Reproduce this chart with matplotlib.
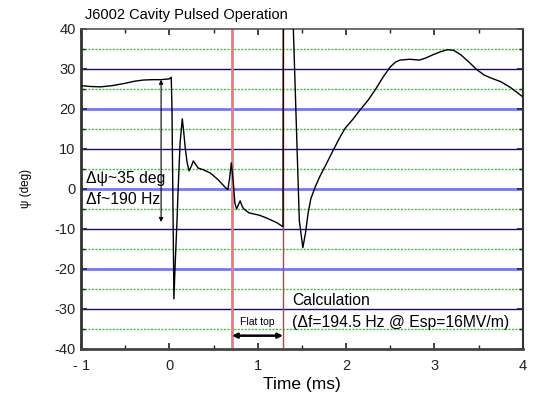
import matplotlib
matplotlib.use('Agg')
import matplotlib.pyplot as plt
import numpy as np

plt.rcParams['font.family'] = ['Liberation Sans', 'DejaVu Sans']
plt.rcParams['axes.unicode_minus'] = False

# phase curve
t = [-1.0, -0.9, -0.78, -0.65, -0.5, -0.4, -0.3, -0.2, -0.1, 0.0, 0.02, 0.028, 0.05, 0.065,
     0.085, 0.098, 0.12, 0.145, 0.16, 0.177, 0.20, 0.222, 0.25, 0.27, 0.30, 0.325, 0.38,
     0.46, 0.55, 0.63, 0.66, 0.68, 0.70, 0.72, 0.74, 0.76, 0.78, 0.80, 0.82, 0.84, 0.90,
     0.96, 1.02, 1.10, 1.22, 1.285, 1.29, 1.36, 1.47, 1.51, 1.54, 1.57, 1.60, 1.65, 1.70,
     1.77, 1.85, 1.92, 1.99, 2.08, 2.16, 2.25, 2.33, 2.42, 2.50, 2.56, 2.61, 2.72, 2.83,
     2.90, 2.98, 3.07, 3.15, 3.22, 3.30, 3.40, 3.48, 3.56, 3.63, 3.75, 3.85, 3.93, 4.0]
psi = [25.8, 25.6, 25.5, 25.8, 26.4, 26.9, 27.2, 27.3, 27.3, 27.5, 27.9, 20.0, -27.5, -18.5,
       -8.0, 0.0, 11.5, 17.5, 14.5, 10.5, 6.5, 4.5, 5.8, 7.0, 6.0, 5.2, 4.8,
       4.0, 2.3, 0.4, -0.2, 2.5, 6.5, 2.2, -3.5, -5.0, -4.0, -3.0, -4.2, -5.0, -6.0,
       -6.3, -6.6, -7.3, -8.5, -9.5, 60.0, 70.0, -8.0, -14.7, -11.0, -6.0, -2.5, 0.5, 3.0,
       6.0, 9.5, 12.5, 15.2, 17.5, 19.8, 22.2, 24.8, 28.0, 30.5, 31.7, 32.2, 32.4, 32.2,
       32.7, 33.5, 34.3, 34.8, 34.6, 33.5, 31.5, 29.8, 28.5, 27.8, 26.8, 25.5, 24.2, 23.0]

flat_start = 0.708
flat_end = 1.285
blue_dark = [-30, -10, 10, 30]
blue_light = [-20, 0, 20]
green_lines = [-35, -25, -15, -5, 5, 15, 25, 35]

fig = plt.figure(figsize=(5.34, 4.01), dpi=100)
ax = fig.add_axes([0.152, 0.130, 0.827, 0.798])

for y in green_lines:
    ax.axhline(y, color='#00ee00', lw=1.0, ls=(0, (1.5, 1)), zorder=1)
for y in blue_dark:
    ax.axhline(y, color='#0000e0', lw=1.0, zorder=1)
for y in blue_light:
    ax.axhline(y, color='#7777f5', lw=2.0, zorder=1)

ax.axvline(flat_start, color='#f07878', lw=2.0, zorder=2)
ax.axvline(flat_end, color='#e03030', lw=1.0, zorder=2)

ax.plot(t, psi, color='black', lw=1.0, zorder=3)

ax.set_xlim(-1, 4)
ax.set_ylim(-40, 40)
ax.set_xticks([-1, 0, 1, 2, 3, 4])
ax.set_xticklabels(['- 1', '0', '1', '2', '3', '4'])
ax.set_xticks(np.arange(-0.5, 4, 1.0), minor=True)
ax.set_yticks(np.arange(-40, 41, 10))
ax.set_yticks(np.arange(-35, 36, 10), minor=True)
ax.tick_params(which='both', direction='in', top=True, right=True, labelsize=10.5,
               colors='#222222')
ax.tick_params(which='major', length=4, width=1.2)
ax.tick_params(which='minor', length=3, width=1.0)
ax.tick_params(axis='x', pad=7)
ax.tick_params(axis='y', pad=4)

for side, w, c in [('left', 2.0, '#333333'), ('bottom', 2.0, '#444444'),
                   ('top', 1.2, '#555555'), ('right', 1.5, '#333333')]:
    ax.spines[side].set_linewidth(w)
    ax.spines[side].set_color(c)

ax.set_xlabel('Time (ms)', fontsize=12.5, labelpad=3)
ax.set_ylabel('ψ (deg)', fontsize=8.5, labelpad=16)
fig.text(0.160, 0.953, 'J6002 Cavity Pulsed Operation', fontsize=10.5)

# annotations
ax.annotate('', xy=(-0.095, 27.3), xytext=(-0.095, -8.3),
            arrowprops=dict(arrowstyle='<|-|>', color='black', lw=0.8,
                            mutation_scale=6, shrinkA=0, shrinkB=0))
ax.text(-0.94, 0.8, 'Δψ~35 deg', fontsize=11.3, va='bottom')
ax.text(-0.94, -4.5, 'Δf~190 Hz', fontsize=11.3, va='bottom')

ax.annotate('', xy=(flat_start, -36.7), xytext=(flat_end, -36.7),
            arrowprops=dict(arrowstyle='<|-|>', color='black', lw=1.8,
                            mutation_scale=7, shrinkA=0, shrinkB=0))
ax.text(0.995, -33.2, 'Flat top', fontsize=7.5, ha='center', va='center')
ax.text(1.39, -27.8, 'Calculation', fontsize=11.3, va='center')
ax.text(1.39, -33.3, '(Δf=194.5 Hz @ Esp=16MV/m)', fontsize=11.3, va='center')

fig.savefig('out.png', dpi=100)
